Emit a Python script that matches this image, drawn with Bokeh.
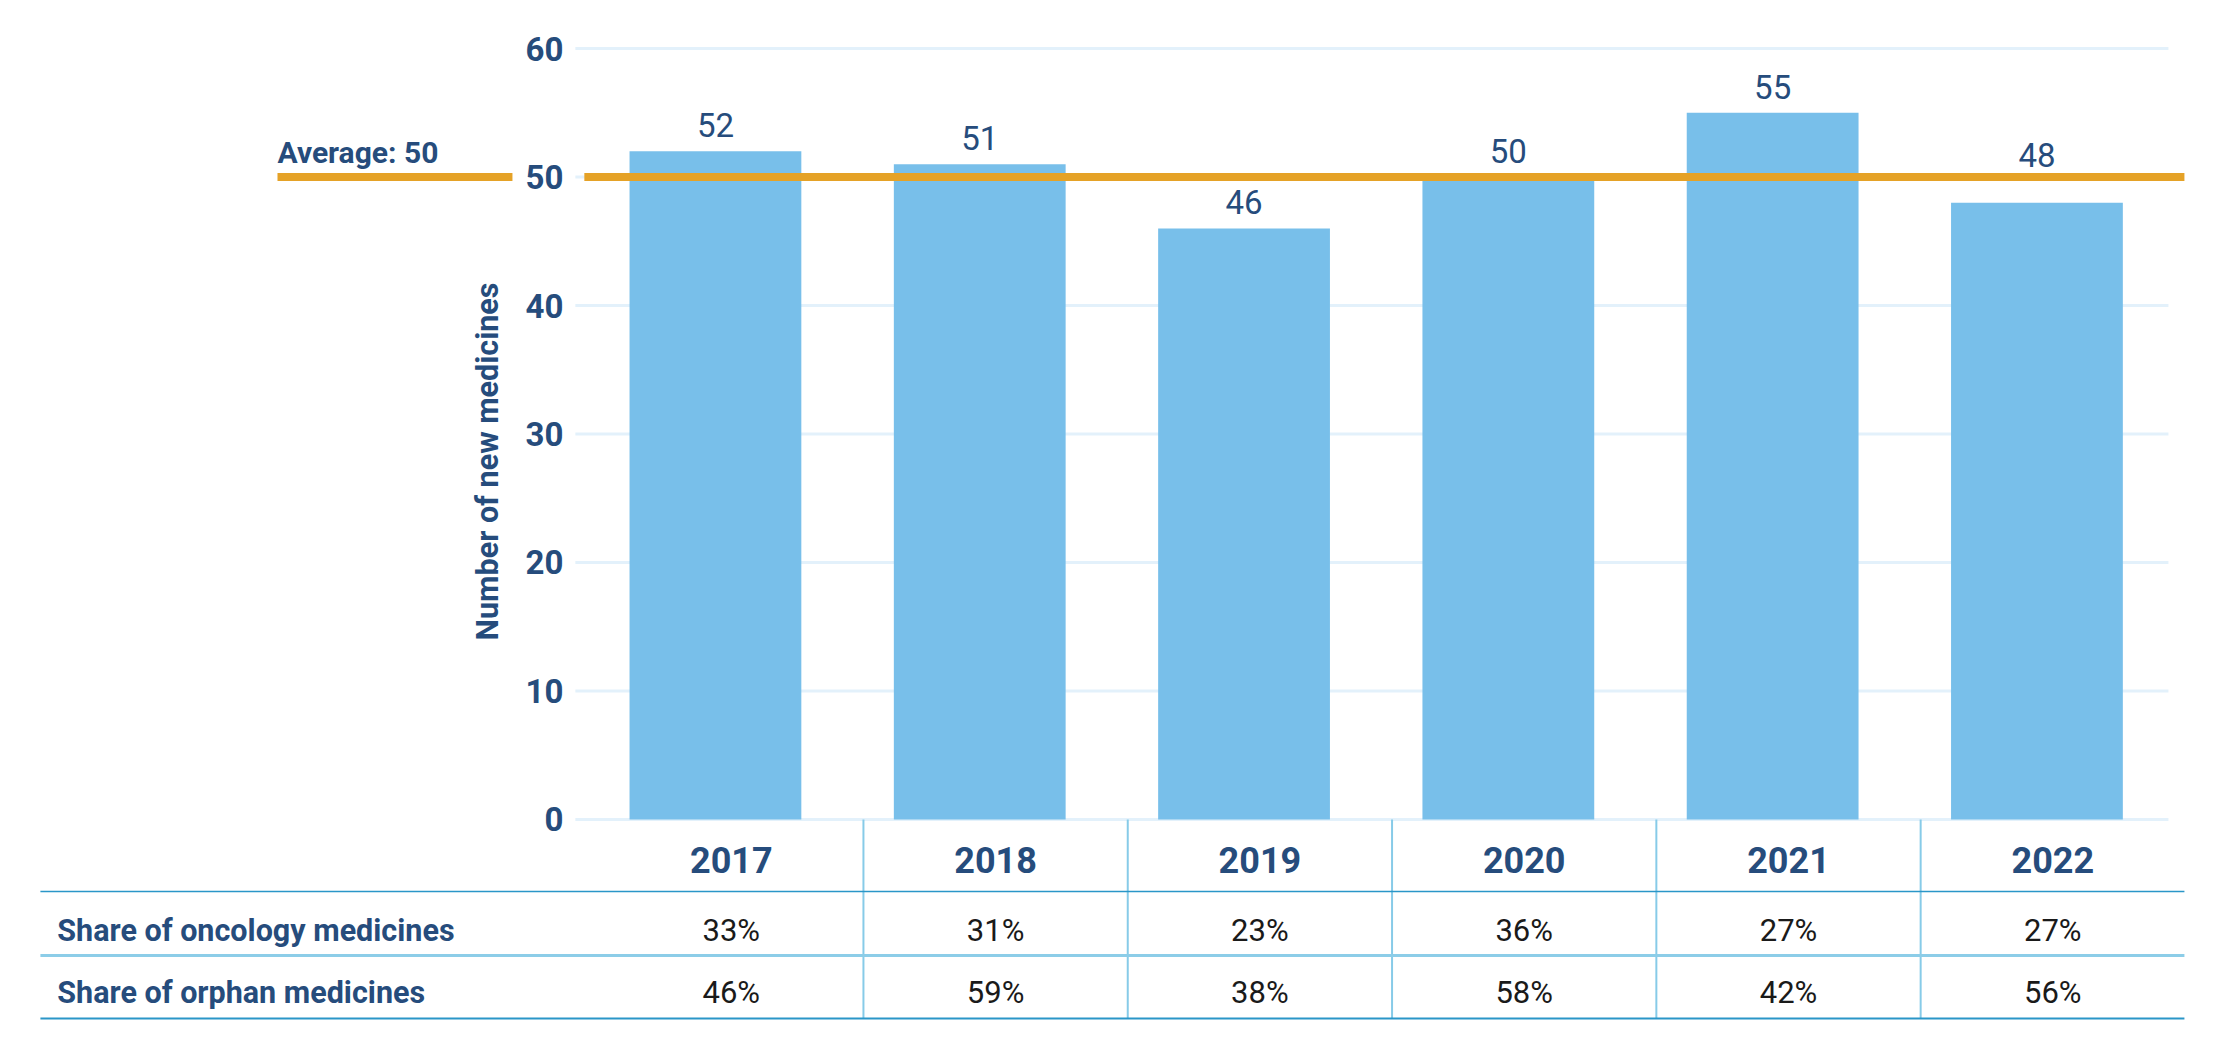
import math
from bokeh.plotting import figure
from bokeh.models import Range1d, FixedTicker, Label, LabelSet, ColumnDataSource
from bokeh.embed import file_html
from bokeh.resources import INLINE
from bokeh.core.properties import value

# ---------------- data ----------------
years = ["2017", "2018", "2019", "2020", "2021", "2022"]
new_medicines = [52, 51, 46, 50, 55, 48]
average = 50
y_ticks = [0, 10, 20, 30, 40, 50, 60]
y_title = "Number of new medicines"
row_labels = ["Share of oncology medicines", "Share of orphan medicines"]
oncology_share = ["33%", "31%", "23%", "36%", "27%", "27%"]
orphan_share = ["46%", "59%", "38%", "58%", "42%", "56%"]

# ---------------- style ----------------
NAVY = "#264c7c"
BAR = "#78bfea"
ORANGE = "#e5a227"
GRID = "#e3f1fb"
LINE_DARK = "#2a96c8"
LINE_LIGHT = "#8ccde8"
LINE_V = "#87cbe8"
FONT = "Roboto"

W, H = 2201, 1032
idx = list(range(len(years)))

# one frame covering the whole canvas; x in bar units, y in data units
p = figure(width=W, height=H, output_backend="svg", toolbar_location=None,
           x_range=Range1d(-2.705, 5.6226), y_range=Range1d(-16.58, 63.74),
           x_axis_type=None, min_border=0,
           min_border_left=0, min_border_right=0, min_border_top=0, min_border_bottom=0)
p.outline_line_color = None
p.xgrid.visible = False
p.ygrid.visible = False

# table geometry in page pixels (extra range, top = 0)
p.extra_y_ranges = {"tbl": Range1d(start=1032, end=0)}

x_left, x_right = -0.53, 5.4975       # plot area (gridline extent)
t_left, t_right = -2.554, 5.558       # table extent

ax = p.yaxis[0]
ax.fixed_location = x_left
ax.ticker = FixedTicker(ticks=y_ticks)
ax.axis_line_color = None
ax.major_tick_line_color = None
ax.minor_tick_line_color = None
ax.major_label_standoff = 6
ax.major_label_text_font = FONT
ax.major_label_text_font_style = "bold"
ax.major_label_text_font_size = "33px"
ax.major_label_text_color = NAVY

# gridlines
n = len(y_ticks)
p.segment(x0=[x_left] * n, x1=[x_right] * n, y0=y_ticks, y1=y_ticks,
          line_color=GRID, line_width=3, level="underlay")

# bars; a value label that would collide with the average line sits above it
label_y = [average if average - 3 < v < average else v for v in new_medicines]
label_off = [10 if average - 3 < v < average else 14 for v in new_medicines]
src = ColumnDataSource(dict(x=idx, top=new_medicines, ly=label_y, off=label_off,
                            label=[str(v) for v in new_medicines]))
p.vbar(x="x", top="top", bottom=0, width=0.65, color=BAR, line_color=None, source=src)
p.add_layout(LabelSet(x="x", y="ly", text="label", source=src, y_offset="off",
                      text_align="center", text_baseline="alphabetic",
                      text_font=value(FONT), text_font_size="33px", text_color=NAVY))

# average line, broken behind the "50" tick label
p.segment(x0=[-1.657, -0.496], x1=[-0.768, t_right], y0=[average, average],
          y1=[average, average], line_color=ORANGE, line_width=8)
p.add_layout(Label(x=-1.657, y=average, y_offset=25, text=f"Average: {average}",
                   text_font=FONT, text_font_style="bold", text_font_size="30px",
                   text_color=NAVY, text_baseline="alphabetic", text_align="left"))

# y title
p.add_layout(Label(x=-0.862, y=27.86, text=y_title, angle=math.pi / 2,
                   text_font=FONT, text_font_style="bold", text_font_size="30.5px",
                   text_color=NAVY, text_baseline="middle", text_align="center"))

# ---------------- table ----------------
shift = 0.06
bounds = [i + 0.5 + shift for i in idx[:-1]]
p.segment(x0=bounds, x1=bounds, y0=[819] * len(bounds), y1=[1018] * len(bounds),
          y_range_name="tbl", line_color=LINE_V, line_width=2)
p.segment(x0=[t_left] * 3, x1=[t_right] * 3, y0=[891, 955, 1018], y1=[891, 955, 1018],
          y_range_name="tbl", line_color=[LINE_DARK, LINE_LIGHT, LINE_DARK],
          line_width=[1.5, 3, 2])

t_cx = [c + shift for c in idx]
p.text(x=t_cx, y=[859] * len(idx), text=years, y_range_name="tbl",
       text_align="center", text_baseline="middle",
       text_font=value(FONT), text_font_style="bold", text_font_size="36px", text_color=NAVY)
p.text(x=t_cx, y=[930] * len(idx), text=oncology_share, y_range_name="tbl",
       text_align="center", text_baseline="middle",
       text_font=value(FONT), text_font_size="31px", text_color="#1a1a1a")
p.text(x=t_cx, y=[992] * len(idx), text=orphan_share, y_range_name="tbl",
       text_align="center", text_baseline="middle",
       text_font=value(FONT), text_font_size="31px", text_color="#1a1a1a")
p.text(x=[-2.49, -2.49], y=[930, 992], text=row_labels, y_range_name="tbl",
       text_align="left", text_baseline="middle",
       text_font=value(FONT), text_font_style="bold", text_font_size="30.5px", text_color=NAVY)

open("out.html", "w").write(file_html(p, INLINE))
